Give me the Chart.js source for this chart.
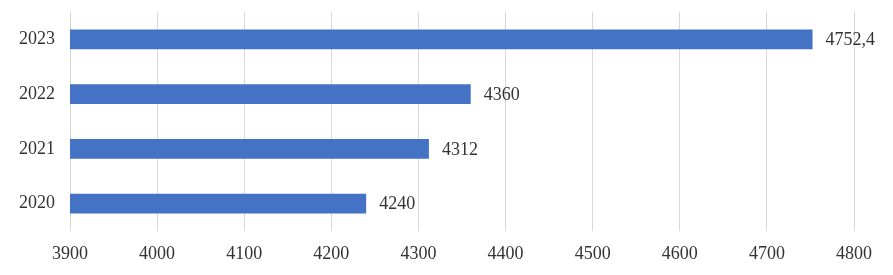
<!DOCTYPE html>
<html>
<head>
<meta charset="utf-8">
<script src="https://cdn.jsdelivr.net/npm/chart.js@4"></script>
<style>
  html, body { margin: 0; padding: 0; background: #fff; }
  #wrap { width: 893px; height: 275px; }
</style>
</head>
<body>
<div id="wrap"><canvas id="chart"></canvas></div>
<script>
'use strict';

var years = ['2023', '2022', '2021', '2020']
var values = [4752.4, 4360, 4312, 4240]
var xTicks = [3900, 4000, 4100, 4200, 4300, 4400, 4500, 4600, 4700, 4800]

const barColor = '#4472C4'
const textColor = '#333333'
const fontFamily = '"Liberation Serif", "Times New Roman", serif'

// value labels to the right of each bar, comma as decimal sign
var valueLabels = {
    id: 'valueLabels',
    afterDatasetsDraw(chart) {
        var ctx = chart.ctx
        var meta = chart.getDatasetMeta(0)
        ctx.save()
        ctx.font = '18px ' + fontFamily
        ctx.fillStyle = textColor
        ctx.textBaseline = 'middle'
        ctx.textAlign = 'left'
        meta.data.forEach(function(bar, i) {
            var txt = String(values[i]).replace('.', ',')
            ctx.fillText(txt, bar.x + 13, bar.y + 1)
        })
        ctx.restore()
    }
}

var ctx = document.getElementById('chart').getContext('2d')
new Chart(ctx, {
    type: 'bar',
    data: {
        labels: years,
        datasets: [{
            data: values,
            backgroundColor: barColor,
            borderWidth: 0,
            barPercentage: 0.73,
            categoryPercentage: 0.5
        }]
    },
    options: {
        indexAxis: 'y',
        responsive: true,
        maintainAspectRatio: false,
        animation: false,
        layout: {
            padding: { top: 12, right: 39, bottom: 0, left: 0 }
        },
        plugins: {
            legend: { display: false },
            tooltip: { enabled: false }
        },
        scales: {
            x: {
                min: xTicks[0],
                max: xTicks[xTicks.length - 1],
                afterBuildTicks: function(s) {
                    s.ticks = xTicks.map(function(v) { return { value: v } })
                },
                afterFit: function(s) { s.height = 44 },
                grid: { color: '#d9d9d9', lineWidth: 1, drawTicks: false },
                border: { display: false },
                ticks: {
                    padding: 12,
                    color: textColor,
                    font: { family: fontFamily, size: 18 },
                    maxRotation: 0,
                    callback: function(v) { return String(v) }
                }
            },
            y: {
                afterFit: function(s) {
                    s.width = 70
                    s.paddingTop = 0
                    s.paddingBottom = 0
                },
                grid: { display: false },
                border: { display: false },
                ticks: {
                    padding: 7,
                    color: textColor,
                    font: { family: fontFamily, size: 18 }
                }
            }
        }
    },
    plugins: [valueLabels]
})
</script>
</body>
</html>
